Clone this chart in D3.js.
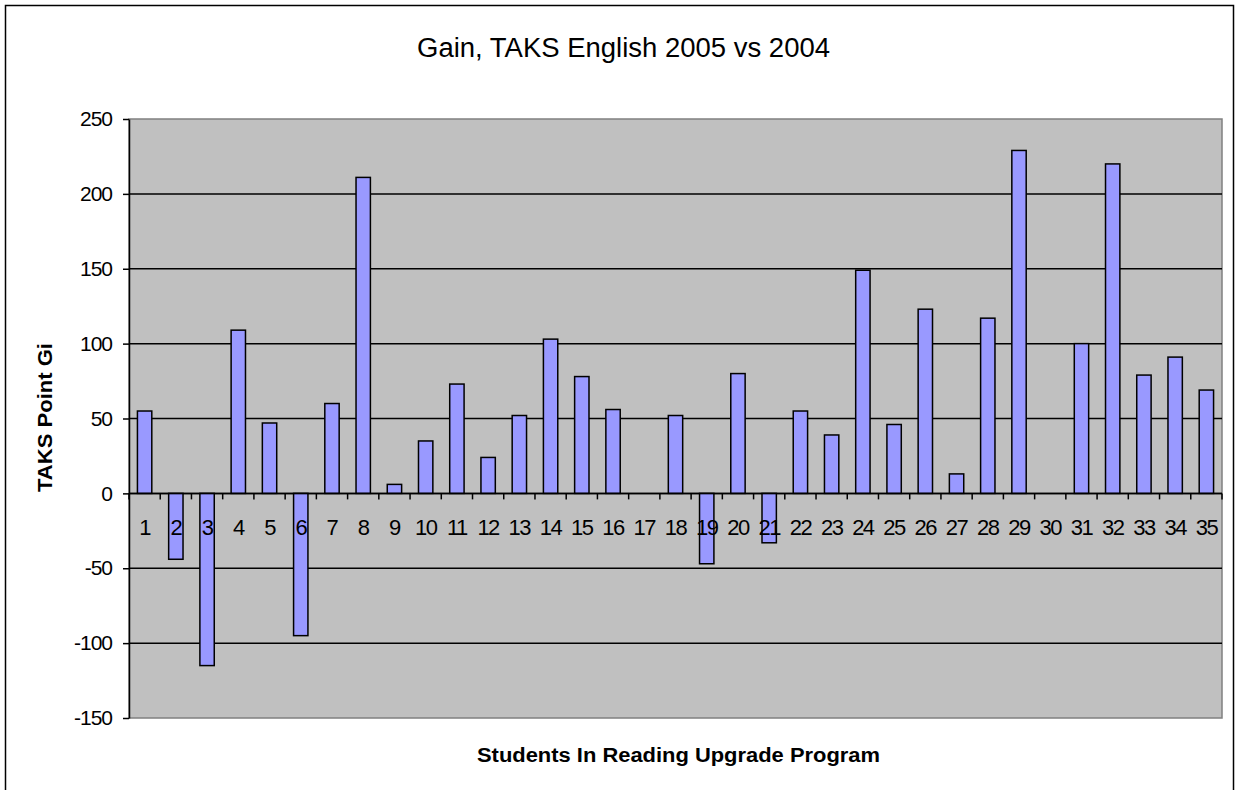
<!DOCTYPE html>
<html>
<head>
<meta charset="utf-8">
<script src="https://cdn.jsdelivr.net/npm/d3@7"></script>
<style>
  body { margin: 0; background: #fff; }
  text { font-family: "Liberation Sans", Arial, sans-serif; }
</style>
</head>
<body>
<div id="chart"></div>
<script>
// students 1..35 and their point gain
const students = d3.range(1, 36).map(String);
const gains = [55, -44, -115, 109, 47, -95, 60, 211, 6, 35,
               73, 24, 52, 103, 78, 56, 0, 52, -47, 80,
               -33, 55, 39, 149, 46, 123, 13, 117, 229, 0,
               100, 220, 79, 91, 69];
const yTicks = [250, 200, 150, 100, 50, 0, -50, -100, -150];

const width = 1236, height = 790;
const plot = { left: 129, right: 1222, top: 119, bottom: 718 };

const svg = d3.select("#chart").append("svg")
    .attr("width", width)
    .attr("height", height);

// outer chart frame
svg.append("rect")
    .attr("x", 5.5).attr("y", 5.5)
    .attr("width", 1228).attr("height", 800)
    .attr("fill", "#fff")
    .attr("stroke", "#000")
    .attr("stroke-width", 1.5);

const x = d3.scaleBand()
    .domain(students)
    .range([plot.left, plot.right])
    .paddingInner(0.54)
    .paddingOuter(0.27);

const y = d3.scaleLinear()
    .domain([-150, 250])
    .range([plot.bottom, plot.top]);

// plot background
svg.append("rect")
    .attr("x", plot.left).attr("y", plot.top)
    .attr("width", plot.right - plot.left)
    .attr("height", plot.bottom - plot.top)
    .attr("fill", "#c0c0c0")
    .attr("stroke", "#808080")
    .attr("stroke-width", 1.5);

// gridlines
svg.selectAll(".grid")
    .data(yTicks.filter(d => d !== 250 && d !== -150))
    .enter().append("line")
    .attr("x1", plot.left).attr("x2", plot.right)
    .attr("y1", d => y(d)).attr("y2", d => y(d))
    .attr("stroke", "#000")
    .attr("stroke-width", 1.5);

// bars
svg.selectAll(".bar")
    .data(gains)
    .enter().append("rect")
    .attr("x", (d, i) => x(students[i]))
    .attr("width", x.bandwidth())
    .attr("y", d => y(Math.max(0, d)))
    .attr("height", d => Math.abs(y(d) - y(0)))
    .attr("fill", "#9999ff")
    .attr("stroke", "#000")
    .attr("stroke-width", 1.5);

// y axis (plain hyphen for negatives, like the original)
const yAxis = d3.axisLeft(y)
    .tickValues(yTicks)
    .tickFormat(d => String(d))
    .tickSize(6)
    .tickSizeOuter(0)
    .tickPadding(11);

const gy = svg.append("g")
    .attr("transform", `translate(${plot.left},0)`)
    .call(yAxis);
gy.select(".domain").attr("stroke", "#000").attr("stroke-width", 1.5);
gy.selectAll(".tick line").attr("stroke", "#000").attr("stroke-width", 1.5);
gy.selectAll(".tick text")
    .attr("fill", "#000")
    .style("font-family", "'Liberation Sans', Arial, sans-serif")
    .style("font-size", "21px")
    .style("letter-spacing", "-1px");

// x axis at zero: ticks between categories
const boundaries = d3.range(0, students.length + 1)
    .map(i => plot.left + i * (plot.right - plot.left) / students.length);

svg.append("line")
    .attr("x1", plot.left).attr("x2", plot.right)
    .attr("y1", y(0)).attr("y2", y(0))
    .attr("stroke", "#000")
    .attr("stroke-width", 1.5);

svg.selectAll(".xtick")
    .data(boundaries)
    .enter().append("line")
    .attr("x1", d => d).attr("x2", d => d)
    .attr("y1", y(0)).attr("y2", y(0) + 6)
    .attr("stroke", "#000")
    .attr("stroke-width", 1.5);

svg.selectAll(".xlabel")
    .data(students)
    .enter().append("text")
    .attr("x", d => x(d) + x.bandwidth() / 2)
    .attr("y", 535)
    .attr("text-anchor", "middle")
    .style("font-size", "22px")
    .style("letter-spacing", "-1.5px")
    .text(d => d);

// titles
svg.append("text")
    .attr("x", 417).attr("y", 57)
    .attr("textLength", 413)
    .attr("lengthAdjust", "spacingAndGlyphs")
    .style("font-size", "27px")
    .text("Gain, TAKS English 2005 vs 2004");

svg.append("text")
    .attr("x", 477).attr("y", 762)
    .attr("textLength", 403)
    .attr("lengthAdjust", "spacingAndGlyphs")
    .style("font-size", "20px")
    .style("font-weight", "bold")
    .text("Students In Reading Upgrade Program");

svg.append("text")
    .attr("transform", "translate(52,492) rotate(-90)")
    .attr("textLength", 149)
    .attr("lengthAdjust", "spacingAndGlyphs")
    .style("font-size", "20px")
    .style("font-weight", "bold")
    .text("TAKS Point Gi");
</script>
</body>
</html>
